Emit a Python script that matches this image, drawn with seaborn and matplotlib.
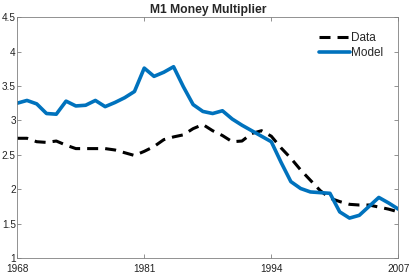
import matplotlib
matplotlib.use("Agg")
import matplotlib.pyplot as plt
import seaborn as sns
import pandas as pd

years = list(range(1968, 2008))
data_vals = [2.74, 2.74, 2.69, 2.68, 2.70, 2.64, 2.59, 2.59, 2.59, 2.59,
             2.57, 2.53, 2.49, 2.55, 2.62, 2.72, 2.76, 2.79, 2.88, 2.94,
             2.85, 2.78, 2.69, 2.70, 2.81, 2.85, 2.77, 2.60, 2.45, 2.28,
             2.13, 1.98, 1.87, 1.82, 1.78, 1.77, 1.77, 1.74, 1.71, 1.67]
model_vals = [3.25, 3.29, 3.24, 3.10, 3.09, 3.28, 3.21, 3.22, 3.29, 3.20,
              3.26, 3.33, 3.42, 3.76, 3.64, 3.70, 3.78, 3.49, 3.23, 3.13,
              3.10, 3.14, 3.02, 2.93, 2.85, 2.77, 2.69, 2.39, 2.11, 2.01,
              1.96, 1.95, 1.94, 1.67, 1.58, 1.62, 1.75, 1.88, 1.80, 1.71]
xticks = [1968, 1981, 1994, 2007]
yticks = [1, 1.5, 2, 2.5, 3, 3.5, 4, 4.5]
title = "M1 Money Multiplier"

df = pd.DataFrame({"year": years, "Data": data_vals, "Model": model_vals})

sns.set_style("white")
plt.rcParams["font.family"] = ["Liberation Sans", "DejaVu Sans"]

fig = plt.figure(figsize=(4.09, 2.73), dpi=100)
ax = fig.add_axes([0.042, 0.055, 0.932, 0.882])

sns.lineplot(data=df, x="year", y="Data", ax=ax, color="black", lw=2.2,
             linestyle=(0, (3.6, 2.3)), label="Data")
sns.lineplot(data=df, x="year", y="Model", ax=ax, color="#0072BD", lw=2.6,
             label="Model")

ax.set_xlim(1968, 2007)
ax.set_ylim(1, 4.5)
ax.set_xticks(xticks)
ax.set_xticklabels([str(t) for t in xticks])
ax.set_yticks(yticks)
ax.set_yticklabels([f"{t:g}" for t in yticks])
ax.set_xlabel("")
ax.set_ylabel("")
ax.set_title(title, fontsize=8.7, fontweight="bold", pad=3)

for s in ax.spines.values():
    s.set_visible(True)
    s.set_color("#808080")
    s.set_linewidth(0.6)
ax.tick_params(direction="in", length=3, width=0.6, color="#808080",
               labelsize=7.2, labelcolor="#222222", top=True, right=True,
               bottom=True, left=True)
ax.tick_params(axis="x", pad=4)
ax.tick_params(axis="y", pad=1)

leg = ax.legend(loc="upper right", frameon=False, fontsize=8.5,
                handlelength=2.6, handletextpad=0.12, labelspacing=0.3,
                borderaxespad=0.85)

fig.savefig("out.png", dpi=100)
